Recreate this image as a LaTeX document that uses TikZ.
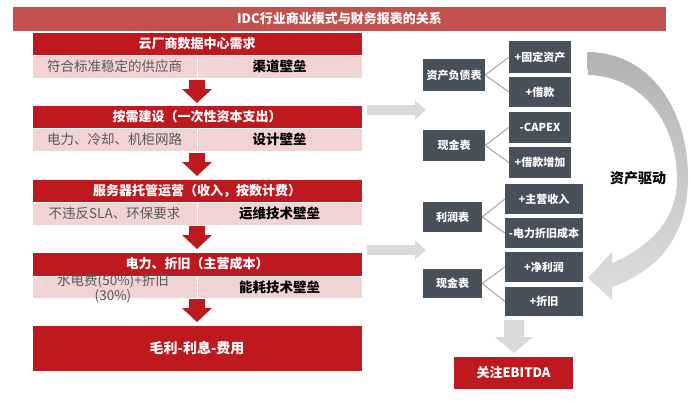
\documentclass[tikz,border=0pt]{standalone}
\usepackage{fontspec}
\setmainfont{Noto Sans CJK SC}
\usetikzlibrary{calc}
\definecolor{titlered}{HTML}{C2504D}
\definecolor{hdrred}{HTML}{BF1920}
\definecolor{pinkrow}{HTML}{F2D3D3}
\definecolor{slate}{HTML}{48505A}
\definecolor{arrowgray}{HTML}{D9D9D9}
\definecolor{linegray}{HTML}{A5A5A5}
\definecolor{subtext}{HTML}{595959}
\newcommand\myfs[1]{\fontsize{#1}{#1}\selectfont}
\tikzset{
  titlebar/.style={fill=titlered, text=white, font=\myfs{13}\bfseries, minimum width=653, minimum height=24, inner sep=0},
  hdr/.style={fill=hdrred, draw=white, line width=0.6pt, text=white, font=\myfs{13}\bfseries, minimum width=330, inner sep=0},
  subl/.style={fill=pinkrow, draw=white, line width=0.6pt, text=subtext, font=\myfs{13.5}, minimum width=165, inner sep=0},
  subr/.style={fill=pinkrow, draw=white, line width=0.6pt, text=black, font=\myfs{13.5}\bfseries, minimum width=165, inner sep=0},
  dk/.style={fill=slate, text=white, font=\myfs{11}\bfseries, inner sep=0},
  conn/.style={draw=linegray, line width=1pt},
  redbox/.style={fill=hdrred, text=white, font=\myfs{13}\bfseries, inner sep=0},
  darr/.pic={\fill[hdrred] (-8,0) -- (8,0) -- (8,9) -- (15,9) -- (0,23) -- (-15,9) -- (-8,9) -- cycle;},
  rarr/.pic={\fill[arrowgray] (0,-5) -- (48,-5) -- (48,-9.5) -- (59,0) -- (48,9.5) -- (48,5) -- (0,5) -- cycle;},
  gdarr/.pic={\fill[arrowgray] (-10,0) -- (10,0) -- (10,17) -- (19,17) -- (0,33) -- (-19,17) -- (-10,17) -- cycle;}
}
\begin{document}
\begin{tikzpicture}[x=1pt,y=-1pt]
\useasboundingbox[fill=white] (0,0) rectangle (690,400);

% title
\node[titlebar] (title) at (339.5,19) {IDC行业商业模式与财务报表的关系};

% left column
\node[hdr, minimum height=23] (h1) at (197,43.5) {云厂商数据中心需求};
\node[subl, minimum height=23] (l1) at (114.5,66.5) {符合标准稳定的供应商};
\node[subr, minimum height=23] (r1) at (279.5,66.5) {渠道壁垒};
\pic at (197,80) {darr};

\node[hdr, minimum height=23] (h2) at (197,116.5) {按需建设（一次性资本支出）};
\node[subl, minimum height=23] (l2) at (114.5,139.5) {电力、冷却、机柜网路};
\node[subr, minimum height=23] (r2) at (279.5,139.5) {设计壁垒};
\pic at (197,153) {darr};

\node[hdr, minimum height=23] (h3) at (197,190.5) {服务器托管运营（收入，按数计费）};
\node[subl, minimum height=23] (l3) at (114.5,213.5) {不违反SLA、环保要求};
\node[subr, minimum height=23] (r3) at (279.5,213.5) {运维技术壁垒};
\pic at (197,226) {darr};

\node[hdr, minimum height=24] (h4) at (197,264) {电力、折旧（主营成本）};
\node[subl, minimum height=22] (l4) at (114.5,287) {};
\node[subr, minimum height=22] (r4) at (279.5,287) {能耗技术壁垒};
\node[text=subtext, font=\fontsize{13.5}{15}\selectfont, align=center, inner sep=0] (l4t) at (113,289) {水电费(50\%)+折旧\\(30\%)};
\pic at (197,299) {darr};

\node[hdr, minimum height=46, font=\myfs{14}\bfseries] (h5) at (197,348) {毛利-利息-费用};

% gray right arrows
\pic at (367,110) {rarr};
\pic at (367,250) {rarr};

% right column
\node[dk, minimum width=62, minimum height=32] (bs) at (454,75) {资产负债表};
\node[dk, minimum width=62, minimum height=32] (fa) at (540,57) {+固定资产};
\node[dk, minimum width=62, minimum height=30] (loan) at (540,92) {+借款};

\node[dk, minimum width=62, minimum height=31] (cf1) at (454,145.5) {现金表};
\node[dk, minimum width=62, minimum height=31] (capex) at (540,127.5) {-CAPEX};
\node[dk, minimum width=62, minimum height=31] (loanadd) at (540,162.5) {+借款增加};

\node[dk, minimum width=59, minimum height=30] (pl) at (452.5,217) {利润表};
\node[dk, minimum width=78, minimum height=30] (rev) at (544,199) {+主营收入};
\node[dk, minimum width=78, minimum height=30] (cost) at (544,233) {-电力折旧成本};

\node[dk, minimum width=59, minimum height=29] (cf2) at (452.5,283.5) {现金表};
\node[dk, minimum width=78, minimum height=30] (np) at (544,267) {+净利润};
\node[dk, minimum width=78, minimum height=29] (dep) at (544,301.5) {+折旧};

\draw[conn] (bs.east) -- (fa.west);
\draw[conn] (bs.east) -- (loan.west);
\draw[conn] (cf1.east) -- (capex.west);
\draw[conn] (cf1.east) -- (loanadd.west);
\draw[conn] (pl.east) -- (rev.west);
\draw[conn] (pl.east) -- (cost.west);
\draw[conn] (cf2.east) -- (np.west);
\draw[conn] (cf2.east) -- (dep.west);

% down arrow to EBITDA
\pic at (514,320) {gdarr};
\node[redbox, minimum width=119, minimum height=32] (ebitda) at (513.5,373) {关注EBITDA};

% curved arrow
\shade[top color=black!30, bottom color=black!13]
  (587,52) .. controls (650,52) and (689,110) .. (688,180)
  .. controls (687,230) and (665,268) .. (612,287)
  -- (612,300) -- (588,278) -- (612,252) -- (612,263)
  .. controls (655,245) and (677,215) .. (677,180)
  .. controls (677,120) and (640,76) .. (588,75) -- cycle;
\node[font=\myfs{14}\bfseries, text=black, inner sep=0] (drive) at (638,178) {资产驱动};
\end{tikzpicture}
\end{document}
